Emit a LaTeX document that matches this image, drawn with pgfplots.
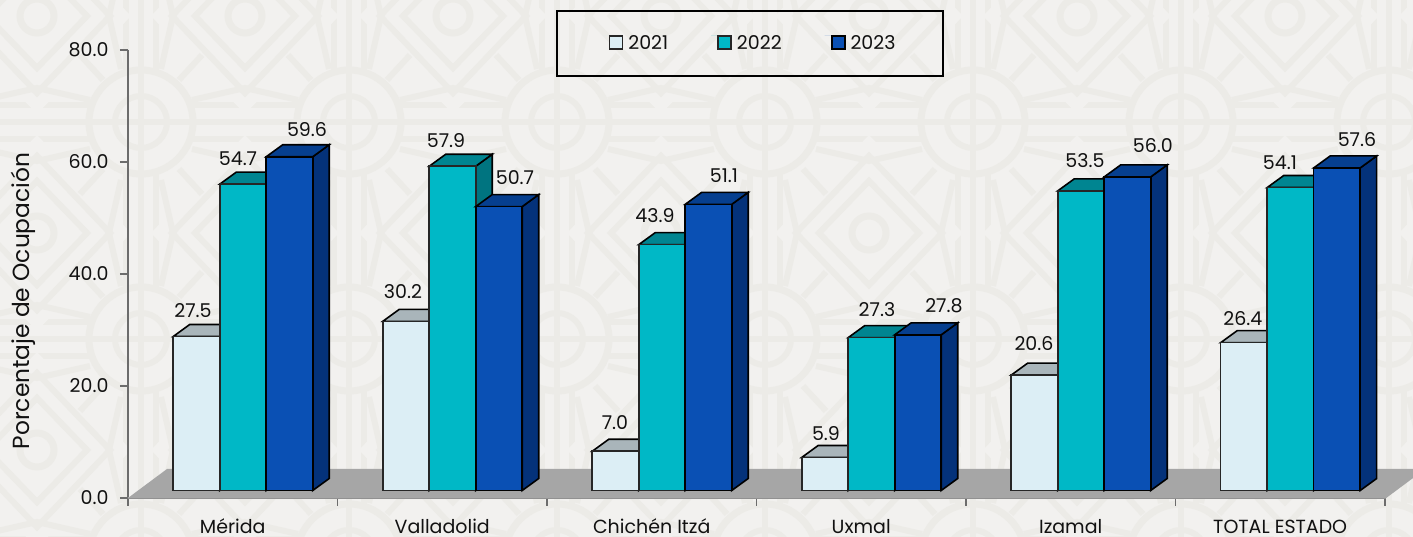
\documentclass[border=0pt]{standalone}
\usepackage{pgfplots}
\pgfplotsset{compat=1.18}
\usepackage{fontspec}
\setmainfont{Poppins}
\definecolor{bg}{HTML}{F2F1EF}
\definecolor{pat}{HTML}{ECEBE7}
\definecolor{txt}{HTML}{111111}
\definecolor{floorc}{HTML}{A6A6A6}
\definecolor{fa}{HTML}{DCEEF5}\definecolor{ta}{HTML}{A9B5BA}\definecolor{sa}{HTML}{8C999E}
\definecolor{fb}{HTML}{00B8C6}\definecolor{tb}{HTML}{008591}\definecolor{sb}{HTML}{007480}
\definecolor{fc}{HTML}{0A50B4}\definecolor{tc}{HTML}{063F8F}\definecolor{sc}{HTML}{04327A}
\newcommand\faces[5]{%
  \pgfmathsetmacro\xa{#1+(#2-23.25)/209.5}%
  \pgfmathsetmacro\xb{#1+(#2+23.25)/209.5}%
  \pgfmathsetmacro\xc{\xa+16.5/209.5}%
  \pgfmathsetmacro\xd{\xb+16.5/209.5}%
  \pgfmathsetmacro\ya{1.34}%
  \pgfmathsetmacro\yb{1.34+12/5.6}%
  \pgfmathsetmacro\yc{#3+1.34}%
  \pgfmathsetmacro\yd{#3+1.34+12/5.6}%
  \addplot[fill=#5,draw=black,line width=1.6pt,forget plot] coordinates {(\xb,\ya)(\xd,\yb)(\xd,\yd)(\xb,\yc)} --cycle;
  \addplot[fill=#4,draw=black,line width=1.6pt,forget plot] coordinates {(\xa,\yc)(\xb,\yc)(\xd,\yd)(\xc,\yd)} --cycle;
}
\pgfplotstableread{
x a b c
0 27.5 54.7 59.6
1 30.2 57.9 50.7
2 7.0 43.9 51.1
3 5.9 27.3 27.8
4 20.6 53.5 56.0
5 26.4 54.1 57.6
}\datatable
\begin{document}
\begin{tikzpicture}[x=1pt,y=1pt]
\useasboundingbox (-128,-39) rectangle (1285,498);
\clip (-128,-39) rectangle (1285,498);
\fill[bg] (-128,-39) rectangle (1285,498);
\begin{scope}[draw=pat,line width=6pt,yscale=-1,yshift=-498pt,xshift=-128pt]
 \foreach \k in {-1,...,7}{
  \pgfmathsetmacro\cx{141+208*\k}
  \draw (\cx-15,-10)--(\cx-15,560) (\cx,-10)--(\cx,560) (\cx+15,-10)--(\cx+15,560);
 }
 \foreach \j in {-1,...,2}{
  \pgfmathsetmacro\cy{122+217*\j}
  \draw (-10,\cy-17)--(1430,\cy-17) (-10,\cy)--(1430,\cy) (-10,\cy+17)--(1430,\cy+17);
 }
 \foreach \k in {-1,...,7}{
  \pgfmathsetmacro\cx{141+208*\k}
  \pgfmathsetmacro\dx{\cx+104}
  \foreach \j in {-1,...,2}{
   \pgfmathsetmacro\cy{122+217*\j}
   \pgfmathsetmacro\dy{\cy-106}
   \fill[bg] (\dx-94,\dy)--(\dx,\dy-98)--(\dx+94,\dy)--(\dx,\dy+98)--cycle;
   \draw (\dx-73,\dy)--(\dx,\dy-77)--(\dx+73,\dy)--(\dx,\dy+77)--cycle;
   \draw (\dx-50,\dy)--(\dx,\dy-52)--(\dx+50,\dy)--(\dx,\dy+52)--cycle;
   \draw[line width=7pt] (\dx,\dy) circle (17);
   \draw (\dx-53,\dy+84)--(\dx,\dy+72)--(\dx+53,\dy+84)
         (\dx-53,\dy-84)--(\dx,\dy-72)--(\dx+53,\dy-84)
         (\dx-84,\dy-53)--(\dx-72,\dy)--(\dx-84,\dy+53)
         (\dx+84,\dy-53)--(\dx+72,\dy)--(\dx+84,\dy+53);
   \draw (\dx+43,\dy+39)--(\dx+66,\dy+64) (\dx-43,\dy+39)--(\dx-66,\dy+64)
         (\dx+43,\dy-39)--(\dx+66,\dy-64) (\dx-43,\dy-39)--(\dx-66,\dy-64);
  }
 }
 \foreach \k in {-1,...,7}{
  \pgfmathsetmacro\cx{141+208*\k}
  \foreach \j in {-1,...,2}{
   \pgfmathsetmacro\cy{122+217*\j}
   \fill[bg] (\cx,\cy) circle (52);
   \draw[line width=7pt] (\cx,\cy) circle (52);
   \draw (\cx,\cy) circle (26);
   \draw (\cx-52,\cy)--(\cx+52,\cy) (\cx,\cy-52)--(\cx,\cy+52);
  }
 }
\end{scope}
\begin{axis}[
  at={(0,0)},anchor=south west,
  scale only axis,width=1257pt,height=448pt,
  xmin=-0.5,xmax=5.5,ymin=0,ymax=80,
  clip=false,
  axis x line=bottom,axis y line=left,
  axis line style={-,draw=gray!85!black,line width=1.4pt},
  xtick={0,...,5},
  xticklabels={Mérida,Valladolid,Chichén Itzá,Uxmal,Izamal,TOTAL ESTADO},
  minor xtick={-0.5,0.5,1.5,2.5,3.5,4.5,5.5},
  ytick={0,20,40,60,80},
  tick align=outside,
  major tick length=8pt,
  minor tick length=8pt,
  tick style={draw=gray!85!black,line width=1.4pt},
  major x tick style={draw=none},
  yticklabel style={/pgf/number format/fixed,/pgf/number format/fixed zerofill,/pgf/number format/precision=1,/pgf/number format/assume math mode=true,xshift=-8pt},
  ticklabel style={font=\fontsize{19}{22}\selectfont,text=txt},
  xticklabel style={anchor=base,yshift=-27.5pt,font=\fontsize{19}{22}\selectfont},
  xtick pos=bottom,ytick pos=left,
  ylabel={Porcentaje de Ocupación},
  every axis y label/.style={at={(-105pt,197pt)},rotate=90,anchor=center,font=\fontsize{23.3}{26}\selectfont,text=txt},
  legend columns=3,
  legend style={at={(622pt,454.5pt)},anchor=center,draw=black,line width=2pt,fill=none,
     font=\fontsize{19}{22}\selectfont,text=txt,inner xsep=46pt,inner ysep=22.5pt,
     /tikz/every even column/.append style={column sep=41pt},
     /tikz/every odd column/.append style={column sep=3pt}},
  legend image code/.code={\path[draw=none] (-7pt,0)--(13pt,0);\draw[#1,line width=1.6pt] (0pt,-13pt) rectangle (13pt,0pt);},
]
\addplot[fill=floorc,draw=none,forget plot] coordinates {(-0.5,0)(5.5,0)(5.5+39/209.5,29/5.6)(-0.5+39/209.5,29/5.6)} --cycle;
\addplot[draw=gray!70,line width=1.5pt,forget plot] coordinates {(-0.5,0)(5.5,0)(5.5+39/209.5,29/5.6)};

\faces{0}{-36.25}{27.5}{ta}{sa}\faces{1}{-36.25}{30.2}{ta}{sa}\faces{2}{-36.25}{7.0}{ta}{sa}\faces{3}{-36.25}{5.9}{ta}{sa}\faces{4}{-36.25}{20.6}{ta}{sa}\faces{5}{-36.25}{26.4}{ta}{sa}
\addplot[ybar,bar width=46.5pt,bar shift=-36.25pt,yshift=7.5pt,fill=fa,draw=black!85,line width=1.6pt] table[x=x,y=a] {\datatable};
\addlegendentry{\raisebox{1pt}{2021}}
\faces{0}{10.25}{54.7}{tb}{sb}\faces{1}{10.25}{57.9}{tb}{sb}\faces{2}{10.25}{43.9}{tb}{sb}\faces{3}{10.25}{27.3}{tb}{sb}\faces{4}{10.25}{53.5}{tb}{sb}\faces{5}{10.25}{54.1}{tb}{sb}
\addplot[ybar,bar width=46.5pt,bar shift=10.25pt,yshift=7.5pt,fill=fb,draw=black!85,line width=1.6pt] table[x=x,y=b] {\datatable};
\addlegendentry{\raisebox{1pt}{2022}}
\faces{0}{56.75}{59.6}{tc}{sc}\faces{1}{56.75}{50.7}{tc}{sc}\faces{2}{56.75}{51.1}{tc}{sc}\faces{3}{56.75}{27.8}{tc}{sc}\faces{4}{56.75}{56.0}{tc}{sc}\faces{5}{56.75}{57.6}{tc}{sc}
\addplot[ybar,bar width=46.5pt,bar shift=56.75pt,yshift=7.5pt,fill=fc,draw=black,line width=1.6pt] table[x=x,y=c] {\datatable};
\addlegendentry{\raisebox{1pt}{2023}}

\addplot[draw=none,mark=none,forget plot,nodes near coords,point meta=explicit symbolic,
  every node near coord/.style={anchor=center,inner sep=0pt,font=\fontsize{19}{22}\selectfont,text=txt}]
 table[x expr=(\thisrow{px}-232.75)/209.5,y expr=(498-\thisrow{py})/5.6,meta=l] {
px py l
193 311 27.5
238 159 54.7
307 130 59.6
403 292 30.2
446 141 57.9
515 178 50.7
615 423 7.0
655 216 43.9
724 176 51.1
826 434 5.9
877 310 27.3
944 306 27.8
1034 344 20.6
1085 161 53.5
1153 146 56.0
1243 319 26.4
1280 163 54.1
1357 140 57.6
};
\end{axis}
\end{tikzpicture}
\end{document}
